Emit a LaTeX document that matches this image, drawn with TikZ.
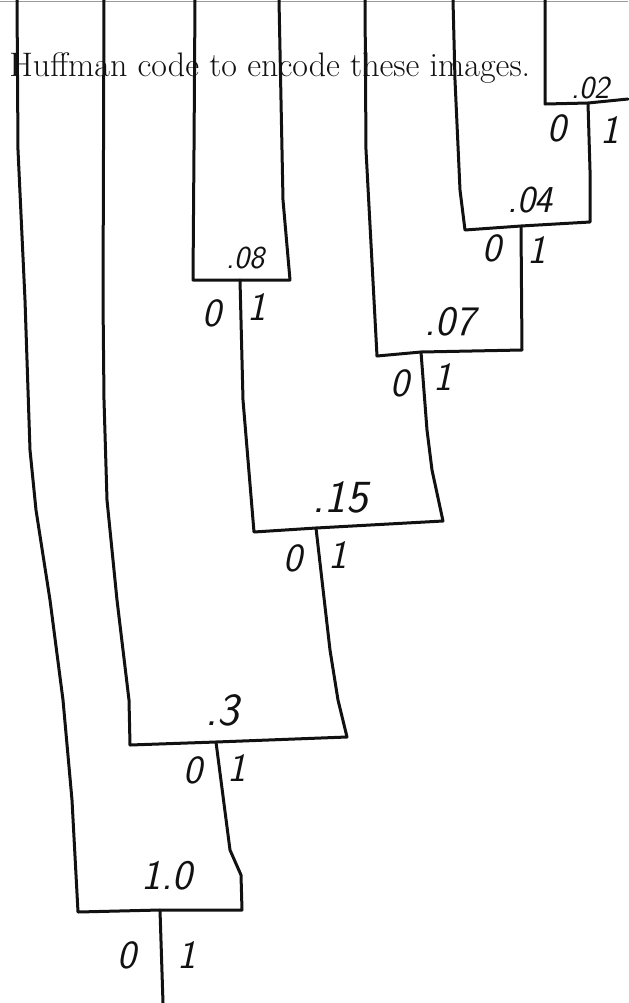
\documentclass[tikz,border=0pt]{standalone}
\usepackage{tikz}
\definecolor{inkblack}{HTML}{111111}
\definecolor{scangray}{HTML}{9A9A9A}

\begin{document}
\begin{tikzpicture}[
    x=0.5pt, y=-0.5pt,
    edge/.style={draw=inkblack, line width=1.5pt, line join=round, line cap=round},
    val/.style={font=\sffamily\slshape\fontsize{21}{21}\selectfont, text=inkblack, inner sep=0pt},
    bit/.style={font=\sffamily\slshape\fontsize{20}{20}\selectfont, text=inkblack, inner sep=0pt}
]
\useasboundingbox (0,0) rectangle (628,1003);

% scan edge
\draw[scangray, line width=0.4pt] (0,1) -- (628,1);

% caption
\node[anchor=base west, font=\fontsize{17}{20}\selectfont, text=inkblack, inner sep=0pt] (caption) at (9,76) {Huffman code to encode these images.};

% junctions
\coordinate (j02) at (588,103);
\coordinate (j04) at (521,226);
\coordinate (j07) at (421,352);
\coordinate (j08) at (240,280);
\coordinate (j15) at (316,528);
\coordinate (j3) at (216,742);
\coordinate (j10) at (160,910);
\coordinate (root) at (163,1003);

% leaf ends
\coordinate (la) at (17,0);
\coordinate (lb) at (104,0);
\coordinate (lc) at (195,0);
\coordinate (ld) at (279,0);
\coordinate (le) at (365,0);
\coordinate (lf) at (453,0);
\coordinate (lg) at (545,0);
\coordinate (lh) at (628,99);

% .02
\draw[edge] (lg) -- (545,104) -- (j02) -- (lh);
% .04
\draw[edge] (lf) -- (455,80) -- (460,190) -- (465,230) -- (j04) -- (590,222) -- (590,170) -- (j02);
% .07
\draw[edge] (le) -- (366,150) -- (374,300) -- (377,356) -- (j07) -- (522,350) -- (j04);
% .08
\draw[edge] (lc) -- (194,150) -- (193,280) -- (j08) -- (290,280) -- (283,200) -- (ld);
% .15
\draw[edge] (j08) -- (243,400) -- (248,460) -- (254,532) -- (j15) -- (443,521) -- (432,470) -- (427,430) -- (j07);
% .3
\draw[edge] (lb) -- (103,300) -- (104,400) -- (107,500) -- (117,600) -- (129,700) -- (130,745) -- (j3) -- (347,737) -- (338,700) -- (330,650) -- (j15);
% 1.0
\draw[edge] (la) -- (18,150) -- (25,300) -- (30,450) -- (36,510) -- (50,600) -- (63,700) -- (72,800) -- (78,912) -- (j10) -- (242,910) -- (241,875) -- (230,850) -- (j3);
\draw[edge] (j10) -- (root);

% values
\node[val, font=\sffamily\slshape\fontsize{16}{16}\selectfont] (v02) at (590,88) {.02};
\node[val, font=\sffamily\slshape\fontsize{19}{19}\selectfont] (v04) at (530,200) {.04};
\node[val] (v07) at (450,322) {.07};
\node[val, font=\sffamily\slshape\fontsize{16}{16}\selectfont] (v08) at (245,258) {.08};
\node[val, font=\sffamily\slshape\fontsize{23}{23}\selectfont] (v15) at (340,497) {.15};
\node[val, font=\sffamily\slshape\fontsize{23}{23}\selectfont] (v3) at (222,710) {.3};
\node[val] (v10) at (167,876) {1.0};

% bits
\node[bit] (b02z) at (557,128) {0};
\node[bit] (b02o) at (610,130) {1};
\node[bit] (b04z) at (492,248) {0};
\node[bit] (b04o) at (537,250) {1};
\node[bit] (b07z) at (400,383) {0};
\node[bit] (b07o) at (443,377) {1};
\node[bit] (b08z) at (212,313) {0};
\node[bit] (b08o) at (257,307) {1};
\node[bit] (b15z) at (293,558) {0};
\node[bit] (b15o) at (338,555) {1};
\node[bit] (b3z) at (193,770) {0};
\node[bit] (b3o) at (237,768) {1};
\node[bit] (b10z) at (127,955) {0};
\node[bit] (b10o) at (187,955) {1};

\end{tikzpicture}
\end{document}
